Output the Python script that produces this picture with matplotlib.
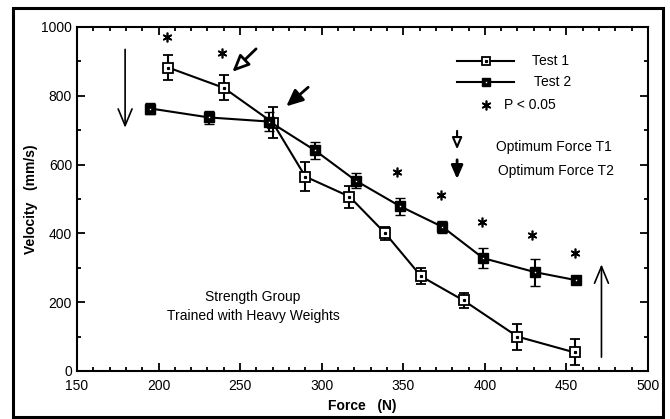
import matplotlib.pyplot as plt
from matplotlib.patches import Rectangle

plt.rcParams['font.family'] = ['Liberation Sans', 'DejaVu Sans']

# Test 1 (open squares)
t1_force = [206, 240, 270, 290, 317, 339, 361, 387, 420, 455]
t1_vel = [882, 823, 722, 565, 507, 400, 275, 205, 100, 54]
t1_err = [37, 36, 46, 43, 32, 19, 23, 22, 38, 38]

# Test 2 (filled squares)
t2_force = [195, 231, 268, 296, 321, 348, 374, 399, 431, 456]
t2_vel = [763, 737, 725, 641, 553, 479, 419, 328, 287, 264]
t2_err = [17, 20, 27, 25, 22, 25, 17, 29, 39, 6]

# significance stars
star_x = [205, 239, 346, 373, 398, 429, 455]
star_y = [972, 924, 578, 513, 432, 396, 342]

fig = plt.figure(figsize=(6.7, 4.19), dpi=100)
ax = fig.add_axes([0.1149, 0.1146, 0.8522, 0.821])

ax.errorbar(t1_force, t1_vel, yerr=t1_err, color='black', lw=1.5, capsize=3.5,
            elinewidth=1.5, capthick=1.5, marker='s', ms=6.5, mfc='white', mec='black',
            mew=1.3, zorder=3)
ax.plot(t1_force, t1_vel, ls='none', marker='s', ms=1.3, color='black', zorder=4)
ax.errorbar(t2_force, t2_vel, yerr=t2_err, color='black', lw=1.5, capsize=3.5,
            elinewidth=1.5, capthick=1.5, marker='s', ms=6.5, mfc='black', mec='black',
            mew=1, zorder=3)
ax.plot(t2_force, t2_vel, ls='none', marker='s', ms=1.0, mew=0, color='white', zorder=4)

ax.plot(star_x, star_y, ls='none', marker=(6, 2, 0), ms=7, color='black', mew=1.2)

ax.set_xlim(150, 500)
ax.set_ylim(0, 1000)
ax.set_xticks(range(150, 501, 50))
ax.set_xticks(range(150, 501, 10), minor=True)
ax.set_yticks(range(0, 1001, 200))
ax.set_yticks(range(0, 1001, 100), minor=True)
ax.tick_params(which='both', direction='in', top=True, right=True, width=1.3,
               labelsize=10)
ax.tick_params(which='major', length=6)
ax.tick_params(which='minor', length=3)
ax.tick_params(axis='x', pad=6)
for s in ax.spines.values():
    s.set_linewidth(1.5)

ax.set_xlabel('Force   (N)', fontweight='bold', fontsize=10, labelpad=4)
ax.set_ylabel('Velocity   (mm/s)', fontweight='bold', fontsize=10)
ax.yaxis.set_label_coords(-0.068, 0.5)

# big arrows
ax.annotate('', xy=(179.5, 699), xytext=(179.5, 943),
            arrowprops=dict(arrowstyle='->,head_length=1.2,head_width=0.5', lw=1.2, color='black'))
ax.annotate('', xy=(471.5, 318), xytext=(471.5, 32),
            arrowprops=dict(arrowstyle='->,head_length=1.2,head_width=0.5', lw=1.2, color='black'))

# optimum arrows
ax.annotate('', xy=(244, 864), xytext=(261, 942),
            arrowprops=dict(arrowstyle='-|>,head_length=1.0,head_width=0.45', lw=2,
                            fc='white', ec='black'))
ax.annotate('', xy=(277, 764), xytext=(293, 830),
            arrowprops=dict(arrowstyle='-|>,head_length=1.0,head_width=0.45', lw=2,
                            fc='black', ec='black'))
ax.annotate('', xy=(383, 636), xytext=(383, 706),
            arrowprops=dict(arrowstyle='-|>,head_length=0.7,head_width=0.3', lw=1.5,
                            fc='white', ec='black'))
ax.annotate('', xy=(383, 550), xytext=(383, 622),
            arrowprops=dict(arrowstyle='-|>,head_length=0.8,head_width=0.35', lw=2,
                            fc='black', ec='black'))

# legend drawn by hand
ax.plot([383, 418], [902, 902], color='black', lw=1.5)
ax.plot([401], [902], marker='s', ms=6, mfc='white', mec='black', mew=1.3)
ax.plot([401], [902], marker='s', ms=1.3, color='black')
ax.text(429, 902, 'Test 1', fontsize=10, va='center')
ax.plot([383, 418], [840, 840], color='black', lw=1.5)
ax.plot([401], [840], marker='s', ms=6, color='black')
ax.plot([401], [840], marker='s', ms=1.0, mew=0, color='white')
ax.text(430, 840, 'Test 2', fontsize=10, va='center')
ax.plot([401], [772], marker=(6, 2, 0), ms=7, color='black', mew=1.2)
ax.text(412, 772, 'P < 0.05', fontsize=10, va='center')
ax.text(407, 651, 'Optimum Force T1', fontsize=10, va='center')
ax.text(408, 582, 'Optimum Force T2', fontsize=10, va='center')

ax.text(258, 187, 'Strength Group\nTrained with Heavy Weights', fontsize=10,
        ha='center', va='center', linespacing=1.4)

fig.patches.append(Rectangle((0.019, 0.005), 0.971, 0.976, transform=fig.transFigure,
                             fill=False, lw=2.2, ec='black'))

fig.savefig('out.png', dpi=100)
